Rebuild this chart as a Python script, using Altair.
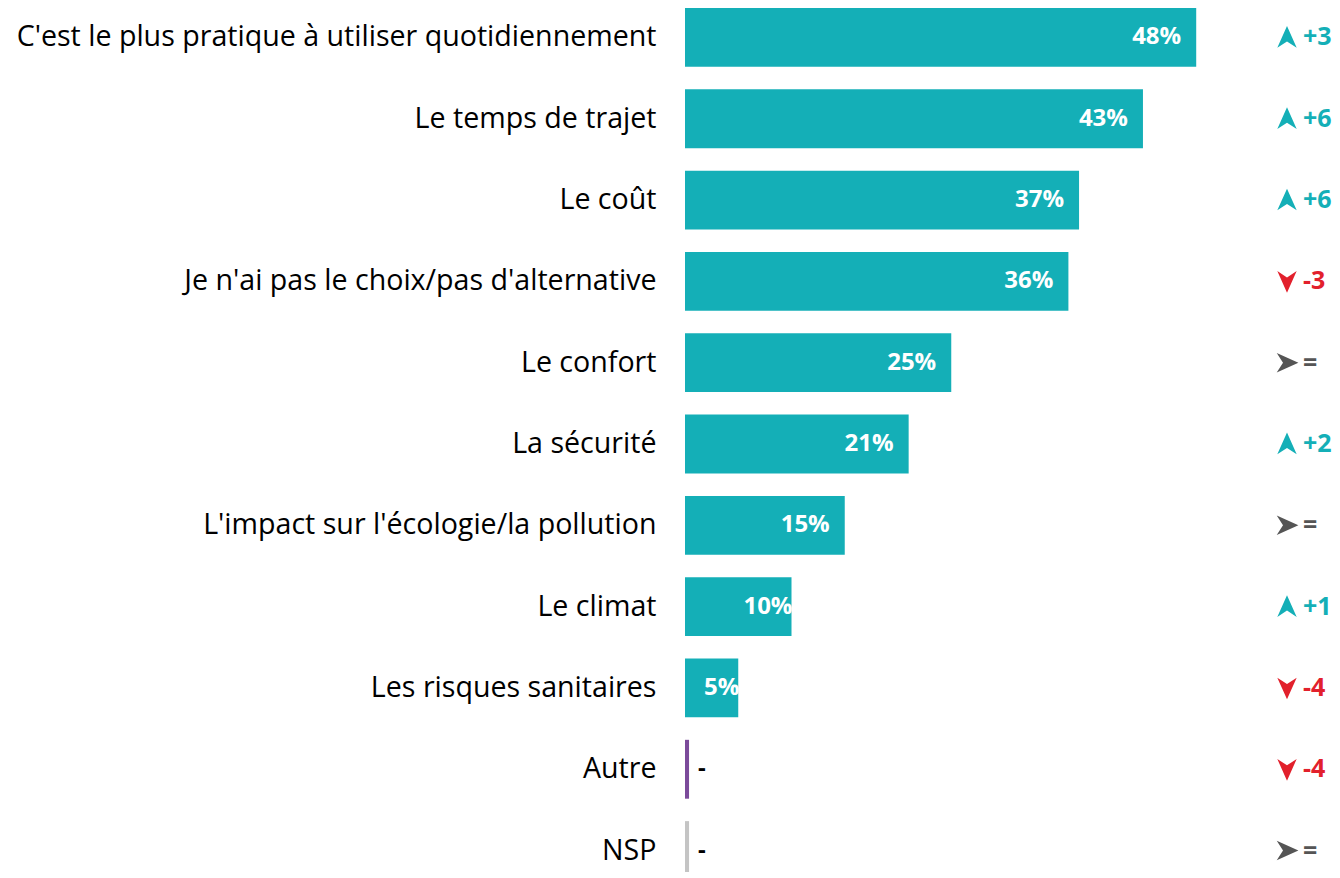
import altair as alt
import pandas as pd

categories = [
    "C'est le plus pratique à utiliser quotidiennement",
    "Le temps de trajet",
    "Le coût",
    "Je n'ai pas le choix/pas d'alternative",
    "Le confort",
    "La sécurité",
    "L'impact sur l'écologie/la pollution",
    "Le climat",
    "Les risques sanitaires",
    "Autre",
    "NSP",
]
values = [48, 43, 37, 36, 25, 21, 15, 10, 5, 0, 0]
value_labels = ["48%", "43%", "37%", "36%", "25%", "21%", "15%", "10%", "5%", "-", "-"]
changes = ["+3", "+6", "+6", "-3", "=", "+2", "=", "+1", "-4", "-4", "="]
trends = ["up", "up", "up", "down", "eq", "up", "eq", "up", "down", "down", "eq"]
bar_groups = ["main"] * 9 + ["autre", "nsp"]

df = pd.DataFrame({
    "cat": categories,
    "value": values,
    "label": value_labels,
    "change": changes,
    "trend": trends,
    "group": bar_groups,
})

FONT = "Open Sans"
TEAL = "#14AFB7"
RED = "#E2202C"
GRAY = "#555555"

y = alt.Y("cat:N", sort=categories, title=None,
          scale=alt.Scale(paddingInner=0.276, paddingOuter=0, range=[0, 872]),
          axis=alt.Axis(domain=False, ticks=False, labelFont=FONT, labelFontSize=28.6,
                        labelColor="#000000", labelPadding=29, labelLimit=800))
xs = alt.Scale(domain=[0, 60.75], nice=False)

base = alt.Chart(df).encode(y=y)

bars = base.transform_calculate(
    bar_end="max(datum.value, 0.38)"
).mark_bar().encode(
    x=alt.X("bar_end:Q", scale=xs, axis=None),
    color=alt.Color("group:N", scale=alt.Scale(domain=["main", "autre", "nsp"],
                                               range=[TEAL, "#7B4A9A", "#C4C4C4"]), legend=None),
)

big_labels = base.transform_filter("datum.value >= 15").mark_text(
    align="right", baseline="middle", dx=-15, font=FONT, fontSize=24, fontWeight="bold", color="white"
).encode(x=alt.X("value:Q", scale=xs), text="label:N")

small_labels = base.transform_filter("datum.value > 0 && datum.value < 15").mark_text(
    align="right", baseline="middle", dx=1, font=FONT, fontSize=24, fontWeight="bold", color="white"
).encode(x=alt.X("value:Q", scale=xs), text="label:N")

dash_labels = base.transform_filter("datum.value == 0").mark_text(
    align="left", baseline="middle", dx=13, font=FONT, fontSize=24, fontWeight="bold", color="#000000"
).encode(x=alt.X("value:Q", scale=xs), text="label:N")

arrows = base.mark_point(filled=True, opacity=1, size=520, strokeWidth=0).encode(
    x=alt.value(602),
    shape=alt.Shape("trend:N", scale=alt.Scale(
        domain=["up", "down", "eq"],
        range=["M0,-1 L0.85,0.9 L0,0.35 L-0.85,0.9 Z",
               "M0,1 L0.85,-0.9 L0,-0.35 L-0.85,-0.9 Z",
               "M1,0 L-0.9,0.85 L-0.35,0 L-0.9,-0.85 Z"]), legend=None),
    color=alt.Color("trend:N", scale=alt.Scale(domain=["up", "down", "eq"],
                                               range=[TEAL, RED, GRAY]), legend=None),
)

change_text = base.mark_text(
    align="left", baseline="middle", font=FONT, fontSize=25, fontWeight="bold"
).encode(
    x=alt.value(618),
    text="change:N",
    color=alt.Color("trend:N", scale=alt.Scale(domain=["up", "down", "eq"],
                                               range=[TEAL, RED, GRAY]), legend=None),
)

chart = alt.layer(bars, big_labels, small_labels, dash_labels, arrows, change_text).properties(
    width=647, height=864,
    autosize=alt.AutoSizeParams(type="none"),
    padding={"left": 677, "top": 0, "right": 0, "bottom": 0},
).configure_view(stroke=None).resolve_scale(color="independent")

chart.save("out.html", embed_options={"renderer": "svg", "actions": False})
